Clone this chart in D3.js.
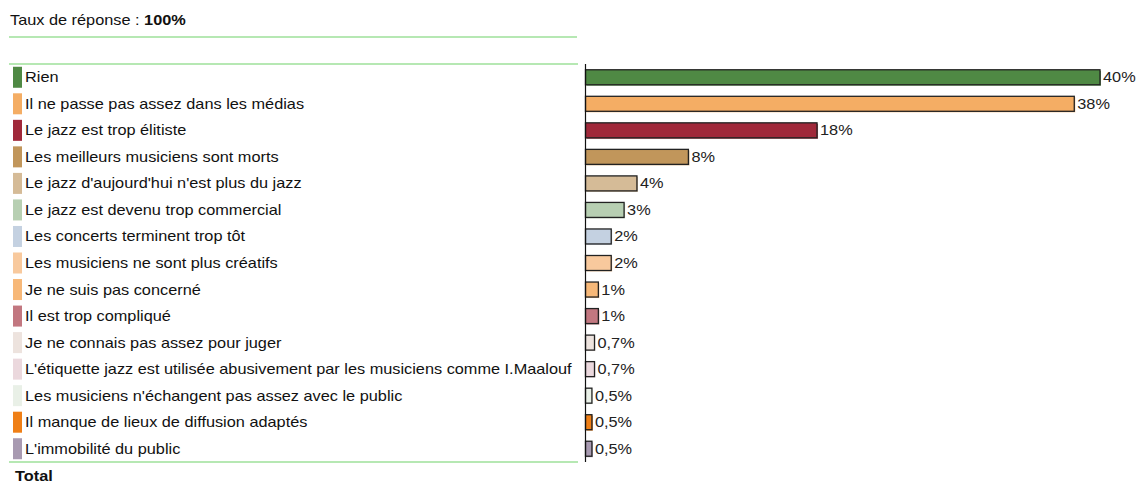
<!DOCTYPE html>
<html lang="fr">
<head>
<meta charset="utf-8">
<script src="https://cdn.jsdelivr.net/npm/d3@7"></script>
<style>
  html, body { margin: 0; padding: 0; background: #fff; }
  svg { display: block; font-family: "Liberation Sans", Arial, sans-serif; }
</style>
</head>
<body>
<svg id="chart" width="1139" height="484"></svg>
<script>
// Réponses proposées, dans l'ordre d'affichage
const categories = [
  "Rien",
  "Il ne passe pas assez dans les médias",
  "Le jazz est trop élitiste",
  "Les meilleurs musiciens sont morts",
  "Le jazz d'aujourd'hui n'est plus du jazz",
  "Le jazz est devenu trop commercial",
  "Les concerts terminent trop tôt",
  "Les musiciens ne sont plus créatifs",
  "Je ne suis pas concerné",
  "Il est trop compliqué",
  "Je ne connais pas assez pour juger",
  "L'étiquette jazz est utilisée abusivement par les musiciens comme I.Maalouf",
  "Les musiciens n'échangent pas assez avec le public",
  "Il manque de lieux de diffusion adaptés",
  "L'immobilité du public"
];

// Pourcentage de répondants
const values = [40, 38, 18, 8, 4, 3, 2, 2, 1, 1, 0.7, 0.7, 0.5, 0.5, 0.5];

// Libellés affichés au bout des barres
const valueLabels = ["40%", "38%", "18%", "8%", "4%", "3%", "2%", "2%", "1%", "1%",
                     "0,7%", "0,7%", "0,5%", "0,5%", "0,5%"];

const colors = [
  "#4f8944", "#f4ad64", "#a0283a", "#c1965b", "#d5bb97",
  "#b7cfb2", "#c4d1e1", "#f8c99d", "#f7b878", "#c27780",
  "#ede3de", "#ebd8dd", "#e9f0e7", "#ef7f16", "#a89ab1"
];

const responseRate = "100%";

const svg = d3.select("#chart");
const rows = categories.map((c, i) => ({ cat: c, v: values[i], label: valueLabels[i], color: colors[i] }));

const plotTop = 64, plotBottom = 462;
const axisX = 585.5;
const stretch = 1.165;   // police légèrement élargie

const y = d3.scaleBand().domain(categories).range([plotTop, plotBottom]).padding(0);
const x = d3.scaleLinear().domain([0, 40]).range([axisX, 1100]);

// En-tête
const head = svg.append("text")
  .attr("transform", `translate(10,25) scale(${stretch},1)`)
  .attr("font-size", 14).attr("fill", "#111");
head.append("tspan").text("Taux de réponse : ");
head.append("tspan").attr("font-weight", "bold").text(responseRate);

const sep = "#9ee09a";
[[37, 577], [64, 578], [462, 578]].forEach(([yy, x2]) => {
  svg.append("line").attr("x1", 9).attr("x2", x2).attr("y1", yy).attr("y2", yy)
    .attr("stroke", sep).attr("stroke-width", 1.5);
});

// Légende à gauche : pastille + libellé
const legend = svg.append("g").selectAll("g").data(rows).join("g")
  .attr("transform", d => `translate(0,${y(d.cat) + y.bandwidth() / 2})`);
legend.append("rect").attr("x", 13).attr("y", -10.5).attr("width", 9).attr("height", 21)
  .attr("fill", d => d.color);
legend.append("text")
  .attr("transform", `translate(25,5) scale(${stretch},1)`)
  .attr("font-size", 14).attr("fill", "#111").text(d => d.cat);

// Barres horizontales
const bh = 15;
const bars = svg.append("g").selectAll("g").data(rows).join("g")
  .attr("transform", d => `translate(0,${y(d.cat) + y.bandwidth() / 2 - bh / 2})`);
// liseré coloré décalé sous la barre
bars.append("rect").attr("x", axisX + 1).attr("y", 1)
  .attr("width", d => Math.max(1, x(d.v) - axisX)).attr("height", bh)
  .attr("fill", d => d.color).attr("opacity", 0.8);
bars.append("rect").attr("x", axisX).attr("y", 0)
  .attr("width", d => x(d.v) - axisX).attr("height", bh)
  .attr("fill", d => d.color).attr("stroke", "#222").attr("stroke-width", 1.3);
bars.append("text")
  .attr("transform", d => `translate(${x(d.v) + 3},${bh / 2 + 5}) scale(${stretch},1)`)
  .attr("font-size", 14).attr("fill", "#222").text(d => d.label);

// Axe vertical
svg.append("line").attr("x1", axisX).attr("x2", axisX).attr("y1", plotTop).attr("y2", plotBottom)
  .attr("stroke", "#111").attr("stroke-width", 1.2);

svg.append("text")
  .attr("transform", `translate(15,481) scale(${stretch},1)`)
  .attr("font-size", 14).attr("font-weight", "bold").attr("fill", "#111").text("Total");
</script>
</body>
</html>
